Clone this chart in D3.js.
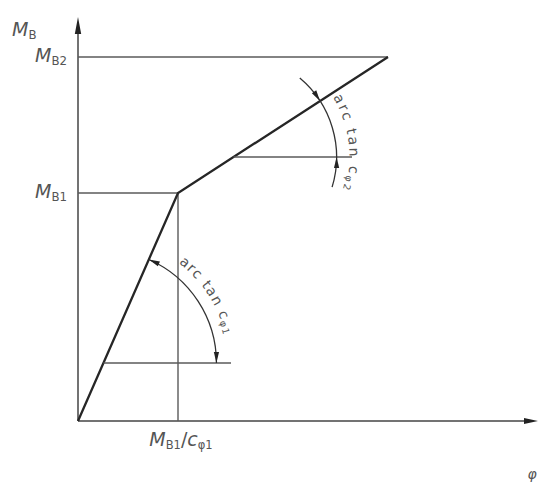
<!DOCTYPE html>
<html>
<head>
<meta charset="utf-8">
<script src="https://cdn.jsdelivr.net/npm/d3@7"></script>
<style>
  body { margin: 0; background: #fff; }
  text { font-family: "DejaVu Sans", sans-serif; fill: #555; }
</style>
</head>
<body>
<svg id="chart" width="540" height="486"></svg>
<script>
// curve: bilinear moment vs. rotation (schematic units)
const phi = [0, 1.0, 3.1];
const moment = [0, 2.28, 3.64];

// reference levels for the two angle markers (M value, phi end of the horizontal)
const markerLevels = [0.58, 2.64];
const markerEnds = [1.53, 2.74];
const markerRadius = [1.13, 1.03];
const markerLabels = ["arc tan c", "arc tan c"];
const markerSubs = ["φ1", "φ2"];

const yTickLabels = [{ main: "M", sub: "B1" }, { main: "M", sub: "B2" }];

const svg = d3.select("#chart");

const x = d3.scaleLinear().domain([0, 4.6]).range([78, 538]);
const y = d3.scaleLinear().domain([0, 4.03]).range([421, 18]);

const thin = "#5a5a5a";
const dark = "#262626";

// axes
svg.append("line")
  .attr("x1", x(0)).attr("y1", y(0))
  .attr("x2", x(0)).attr("y2", y(4.03) + 6)
  .attr("stroke", "#444").attr("stroke-width", 1.5);
svg.append("line")
  .attr("x1", x(0)).attr("y1", y(0))
  .attr("x2", x(4.6) - 6).attr("y2", y(0))
  .attr("stroke", "#444").attr("stroke-width", 1.5);

function arrowHead(tx, ty, dx, dy, len, half) {
  const bx = tx - dx * len, by = ty - dy * len;
  const px = -dy * half, py = dx * half;
  svg.append("path")
    .attr("d", `M${tx},${ty}L${bx + px},${by + py}L${bx - px},${by - py}Z`)
    .attr("fill", "#222");
}
arrowHead(x(0), y(4.03) - 1, 0, -1, 17, 3.2);
arrowHead(x(4.6), y(0), 1, 0, 14, 3);

// guide lines to the break points
svg.append("line")
  .attr("x1", x(0)).attr("y1", y(moment[2]))
  .attr("x2", x(phi[2])).attr("y2", y(moment[2]))
  .attr("stroke", thin).attr("stroke-width", 1.7);
svg.append("line")
  .attr("x1", x(0)).attr("y1", y(moment[1]))
  .attr("x2", x(phi[1])).attr("y2", y(moment[1]))
  .attr("stroke", thin).attr("stroke-width", 1.4);
svg.append("line")
  .attr("x1", x(phi[1])).attr("y1", y(moment[1]))
  .attr("x2", x(phi[1])).attr("y2", y(0))
  .attr("stroke", thin).attr("stroke-width", 1.4);

// the curve
const line = d3.line().x((d, i) => x(phi[i])).y((d, i) => y(moment[i]));
svg.append("path")
  .datum(phi)
  .attr("d", line)
  .attr("fill", "none")
  .attr("stroke", dark)
  .attr("stroke-width", 2.3)
  .attr("stroke-linejoin", "miter");

// angle markers
const defs = svg.append("defs");
markerLevels.forEach((m, k) => {
  // where the curve segment crosses the level
  const i = k; // segment index
  const t = (m - moment[i]) / (moment[i + 1] - moment[i]);
  const phiC = phi[i] + t * (phi[i + 1] - phi[i]);
  const cx = x(phiC), cy = y(m);
  const r = x(markerRadius[k]) - x(0);
  const slope = Math.atan2(y(moment[i]) - y(moment[i + 1]), x(phi[i + 1]) - x(phi[i]));

  svg.append("line")
    .attr("x1", cx).attr("y1", cy)
    .attr("x2", x(markerEnds[k])).attr("y2", cy)
    .attr("stroke", thin).attr("stroke-width", 1.4);

  const pt = (a, rr) => [cx + rr * Math.cos(a), cy - rr * Math.sin(a)];
  const deg = Math.PI / 180;
  let a0, a1;
  if (k === 0) { a0 = slope; a1 = 0; }
  else { a0 = 50 * deg; a1 = -17 * deg; }
  const p0 = pt(a0, r), p1 = pt(a1, r);
  svg.append("path")
    .attr("d", `M${p0[0]},${p0[1]}A${r},${r} 0 0 1 ${p1[0]},${p1[1]}`)
    .attr("fill", "none")
    .attr("stroke", "#333")
    .attr("stroke-width", 1.3);

  // arrow tips touching the two legs
  const tipS = pt(slope, r), tipH = pt(0, r);
  if (k === 0) {
    arrowHead(tipS[0], tipS[1], -Math.sin(slope), -Math.cos(slope), 11, 2.6);
    arrowHead(tipH[0], tipH[1], 0, 1, 11, 2.6);
  } else {
    arrowHead(tipS[0], tipS[1], Math.sin(slope), Math.cos(slope), 11, 2.6);
    arrowHead(tipH[0], tipH[1], 0, -1, 11, 2.6);
  }

  // label along the arc
  const rt = r + (k === 0 ? 12 : 13);
  const s0 = k === 0 ? 53 * deg : 31 * deg;
  const s1 = -40 * deg;
  const q0 = pt(s0, rt), q1 = pt(s1, rt);
  defs.append("path")
    .attr("id", "arcText" + k)
    .attr("d", `M${q0[0]},${q0[1]}A${rt},${rt} 0 0 1 ${q1[0]},${q1[1]}`);
  const tp = svg.append("text")
    .attr("font-size", 14)
    .attr("letter-spacing", k === 0 ? 1.3 : 2.2)
    .attr("fill", "#444")
    .append("textPath")
    .attr("href", "#arcText" + k);
  tp.append("tspan").text(markerLabels[k]);
  tp.append("tspan").attr("font-size", 9.5).attr("dy", 2).text(markerSubs[k]);
});

// labels
function subLabel(xp, yp, main, sub, anchor, size) {
  const t = svg.append("text")
    .attr("x", xp).attr("y", yp)
    .attr("text-anchor", anchor)
    .attr("font-size", size);
  t.append("tspan").attr("font-style", "italic").text(main);
  t.append("tspan").attr("font-size", size * 0.62).attr("dy", 3).text(sub);
  return t;
}
subLabel(12, 36, "M", "B", "start", 19);
yTickLabels.forEach((d, i) => {
  subLabel(67, y(moment[i + 1]) + 5, d.main, d.sub, "end", 19);
});

const xl = svg.append("text")
  .attr("x", x(phi[1]) + 3).attr("y", 446)
  .attr("text-anchor", "middle")
  .attr("font-size", 19);
xl.append("tspan").attr("font-style", "italic").text("M");
xl.append("tspan").attr("font-size", 11.5).attr("dy", 3).text("B1");
xl.append("tspan").attr("dy", -3).text("/");
xl.append("tspan").attr("font-style", "italic").text("c");
xl.append("tspan").attr("font-size", 11.5).attr("dy", 3).text("φ1");

svg.append("text")
  .attr("x", 532).attr("y", 479)
  .attr("text-anchor", "middle")
  .attr("font-size", 14)
  .attr("font-style", "italic")
  .text("φ");
</script>
</body>
</html>
